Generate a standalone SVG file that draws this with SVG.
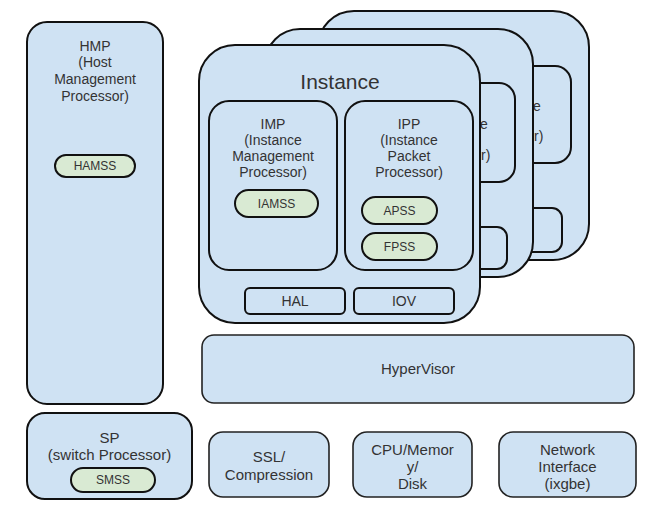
<svg xmlns="http://www.w3.org/2000/svg" width="654" height="516" viewBox="0 0 654 516">
<style>
  .box { fill: #cfe2f3; stroke: #111; stroke-width: 2; }
  .thin { fill: #cfe2f3; stroke: #222; stroke-width: 1.6; }
  .pill { fill: #d9ead3; stroke: #111; stroke-width: 2; }
  text { font-family: "Liberation Sans", Arial, sans-serif; fill: #333; text-anchor: middle; }
  .lbl { font-size: 14px; }
  .big { font-size: 15px; }
  .sm { font-size: 12px; }
  .title { font-size: 21px; }
  .frag { font-size: 14px; text-anchor: start; }
</style>
<rect width="654" height="516" fill="#ffffff"/>

<g id="hmp">
  <rect class="box" x="27" y="22" width="136" height="382" rx="20"/>
  <text class="lbl" x="95" y="51">HMP</text>
  <text class="lbl" x="95" y="67">(Host</text>
  <text class="lbl" x="95" y="84">Management</text>
  <text class="lbl" x="95" y="101">Processor)</text>
</g>
<g id="hamss">
  <rect class="pill" x="55" y="155" width="80" height="22" rx="11"/>
  <text class="sm" x="95" y="170">HAMSS</text>
</g>

<g id="instance3">
  <rect class="box" x="318" y="11" width="271" height="249" rx="36"/>
  <rect class="box" x="440" y="66" width="131" height="97" rx="16"/>
  <rect class="box" x="480" y="208" width="82" height="44" rx="10"/>
  <text class="frag" x="533" y="111">e</text>
  <text class="frag" x="534" y="141">r)</text>
</g>

<g id="instance2">
  <rect class="box" x="265" y="29" width="268" height="248" rx="35"/>
  <rect class="box" x="400" y="83" width="115" height="99" rx="16"/>
  <rect class="box" x="440" y="227" width="67" height="42" rx="10"/>
  <text class="frag" x="480" y="129">e</text>
  <text class="frag" x="481" y="160">r)</text>
</g>

<g id="instance">
  <rect class="box" x="199" y="45" width="281" height="278" rx="36"/>
  <text class="title" x="340" y="89">Instance</text>
</g>

<g id="imp">
  <rect class="box" x="209" y="101" width="128" height="169" rx="20"/>
  <text class="lbl" x="273" y="129">IMP</text>
  <text class="lbl" x="273" y="145">(Instance</text>
  <text class="lbl" x="273" y="161">Management</text>
  <text class="lbl" x="273" y="177">Processor)</text>
</g>
<g id="iamss">
  <rect class="pill" x="235" y="190" width="83" height="27" rx="13.5"/>
  <text class="sm" x="276.5" y="208">IAMSS</text>
</g>

<g id="ipp">
  <rect class="box" x="345" y="101" width="128" height="169" rx="20"/>
  <text class="lbl" x="409" y="129">IPP</text>
  <text class="lbl" x="409" y="145">(Instance</text>
  <text class="lbl" x="409" y="161">Packet</text>
  <text class="lbl" x="409" y="177">Processor)</text>
</g>
<g id="apss">
  <rect class="pill" x="362" y="197" width="75" height="27" rx="13.5"/>
  <text class="sm" x="399.5" y="215">APSS</text>
</g>
<g id="fpss">
  <rect class="pill" x="362" y="233" width="75" height="27" rx="13.5"/>
  <text class="sm" x="399.5" y="251">FPSS</text>
</g>

<g id="hal">
  <rect class="box" x="245" y="288" width="100" height="26" rx="5"/>
  <text class="lbl" x="295" y="306">HAL</text>
</g>
<g id="iov">
  <rect class="box" x="354" y="288" width="100" height="26" rx="5"/>
  <text class="lbl" x="404" y="306">IOV</text>
</g>

<g id="hypervisor">
  <rect class="thin" x="202" y="335" width="432" height="68" rx="12"/>
  <text class="big" x="418" y="374">HyperVisor</text>
</g>

<g id="sp">
  <rect class="box" x="27" y="413" width="165" height="86" rx="18"/>
  <text class="big" x="109.5" y="443">SP</text>
  <text class="big" x="109.5" y="460">(switch Processor)</text>
</g>
<g id="smss">
  <rect class="pill" x="71" y="468" width="84" height="24" rx="12"/>
  <text class="sm" x="113" y="484">SMSS</text>
</g>

<g id="ssl">
  <rect class="thin" x="209" y="432" width="120" height="65" rx="14"/>
  <text class="big" x="269" y="462">SSL/</text>
  <text class="big" x="269" y="480">Compression</text>
</g>

<g id="cpu">
  <rect class="thin" x="353" y="432" width="119" height="65" rx="14"/>
  <text class="big" x="412.5" y="455">CPU/Memor</text>
  <text class="big" x="412.5" y="472">y/</text>
  <text class="big" x="412.5" y="489">Disk</text>
</g>

<g id="network">
  <rect class="thin" x="499" y="432" width="137" height="65" rx="14"/>
  <text class="big" x="567.5" y="455">Network</text>
  <text class="big" x="567.5" y="472">Interface</text>
  <text class="big" x="567.5" y="489">(ixgbe)</text>
</g>

<g id="connectors"></g>
</svg>
